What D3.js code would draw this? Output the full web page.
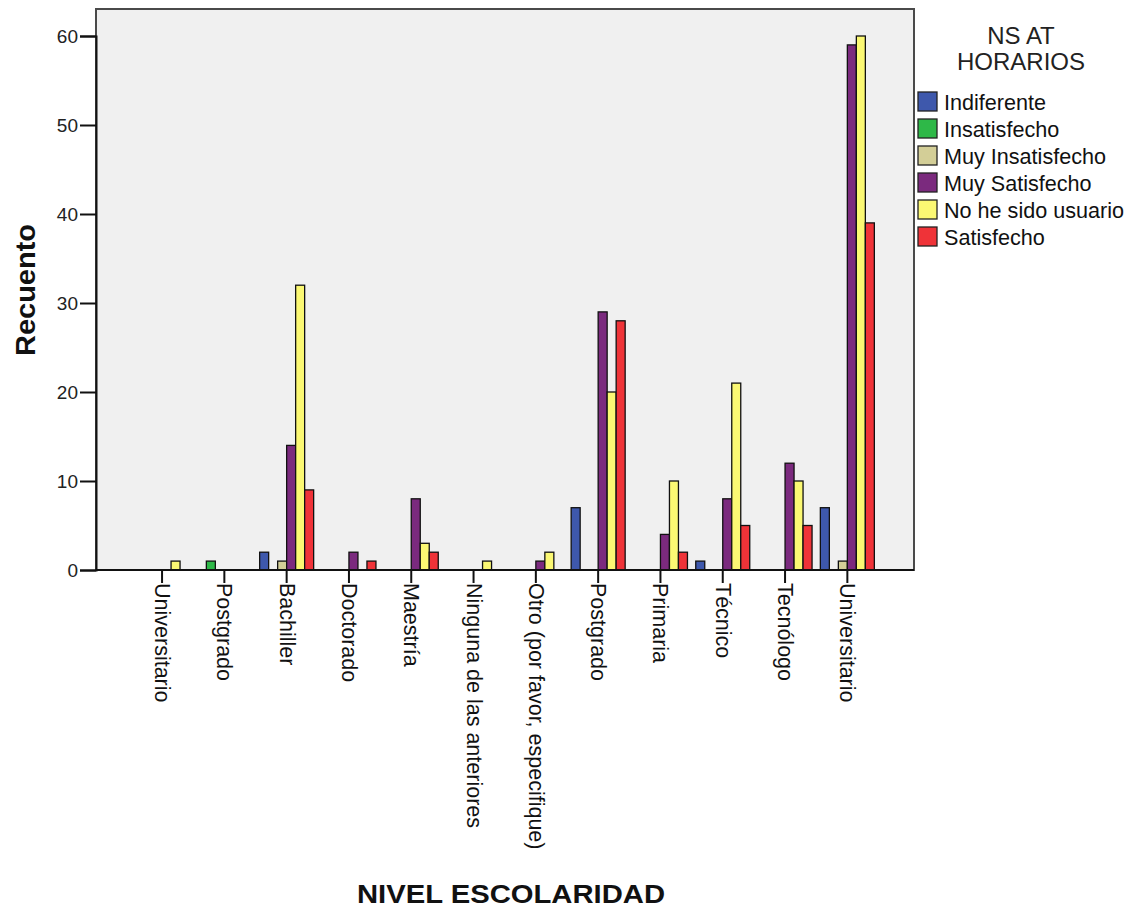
<!DOCTYPE html>
<html>
<head>
<meta charset="utf-8">
<script src="https://cdn.jsdelivr.net/npm/d3@7"></script>
<style>
  html, body { margin: 0; padding: 0; background: #ffffff; }
  svg { display: block; font-family: "Liberation Sans", Arial, sans-serif; }
</style>
</head>
<body>
<svg id="chart" width="1132" height="914"></svg>
<script>
// ---- data ----
const categories = ["Universitario", "Postgrado", "Bachiller", "Doctorado", "Maestría",
  "Ninguna de las anteriores", "Otro (por favor, especifique)", "Postgrado", "Primaria",
  "Técnico", "Tecnólogo", "Universitario"];
const seriesNames = ["Indiferente", "Insatisfecho", "Muy Insatisfecho", "Muy Satisfecho",
  "No he sido usuario", "Satisfecho"];
const indiferente      = [0, 0, 2, 0, 0, 0, 0, 7, 0, 1, 0, 7];
const insatisfecho     = [0, 1, 0, 0, 0, 0, 0, 0, 0, 0, 0, 0];
const muyInsatisfecho  = [0, 0, 1, 0, 0, 0, 0, 0, 0, 0, 0, 1];
const muySatisfecho    = [0, 0, 14, 2, 8, 0, 1, 29, 4, 8, 12, 59];
const noHeSidoUsuario  = [1, 0, 32, 0, 3, 1, 2, 20, 10, 21, 10, 60];
const satisfecho       = [0, 0, 9, 1, 2, 0, 0, 28, 2, 5, 5, 39];
const yTicks = [0, 10, 20, 30, 40, 50, 60];
const legendTitle = ["NS AT", "HORARIOS"];
const xTitle = "NIVEL ESCOLARIDAD";
const yTitle = "Recuento";

const seriesValues = [indiferente, insatisfecho, muyInsatisfecho, muySatisfecho, noHeSidoUsuario, satisfecho];
const colors = ["#3E58AC", "#2EB848", "#D3CE97", "#7B2A7E", "#FBF873", "#EF3338"];

// ---- layout ----
const svg = d3.select("#chart");
const plot = { left: 96, top: 9, right: 914, bottom: 570 };

const x = d3.scaleBand()
  .domain(d3.range(categories.length))
  .range([130.9, 878.5])
  .padding(0);
const xInner = d3.scaleBand()
  .domain(d3.range(seriesNames.length))
  .range([-27, 27])
  .padding(0);
const y = d3.scaleLinear().domain([0, 60]).range([570, 36]);

// plot background
svg.append("rect")
  .attr("x", plot.left).attr("y", plot.top)
  .attr("width", plot.right - plot.left).attr("height", plot.bottom - plot.top)
  .attr("fill", "#F0F0F0")
  .attr("stroke", "#4a4a4a").attr("stroke-width", 2);

// bars
const barData = [];
seriesValues.forEach((vals, s) => {
  vals.forEach((v, c) => { if (v > 0) barData.push({ s, c, v }); });
});
svg.append("g").selectAll("rect")
  .data(barData)
  .join("rect")
  .attr("x", d => x(d.c) + x.bandwidth() / 2 + xInner(d.s))
  .attr("width", xInner.bandwidth())
  .attr("y", d => y(d.v))
  .attr("height", d => y(0) - y(d.v))
  .attr("fill", d => colors[d.s])
  .attr("stroke", "#111")
  .attr("stroke-width", 1.3);

// y axis
const yAxis = d3.axisLeft(y).tickValues(yTicks).tickSize(16).tickPadding(2).tickFormat(d3.format("d"));
const gy = svg.append("g").attr("transform", `translate(${plot.left},0)`).call(yAxis);
gy.select(".domain").attr("stroke", "#111").attr("stroke-width", 2);
gy.selectAll(".tick line").attr("stroke", "#111").attr("stroke-width", 2);
gy.selectAll(".tick text")
  .attr("font-size", 19)
  .attr("fill", "#222")
  .attr("font-family", "'Liberation Sans', Arial, sans-serif");

// x axis
const xAxis = d3.axisBottom(x).tickSize(13).tickFormat(i => categories[i]);
const gx = svg.append("g").attr("transform", `translate(0,${plot.bottom})`).call(xAxis);
gx.select(".domain").attr("d", `M${plot.left},0H${plot.right}`).attr("stroke", "#111").attr("stroke-width", 2);
gx.selectAll(".tick line").attr("stroke", "#111").attr("stroke-width", 2);
gx.selectAll(".tick text")
  .attr("font-size", 21.5)
  .attr("fill", "#111")
  .attr("font-family", "'Liberation Sans', Arial, sans-serif")
  .attr("text-anchor", "start")
  .attr("dy", null)
  .attr("dominant-baseline", "central")
  .attr("transform", "translate(0,13) rotate(90)")
  .attr("x", 0).attr("y", 0);

// axis titles
svg.append("text")
  .attr("x", 511).attr("y", 903)
  .attr("text-anchor", "middle")
  .attr("font-size", 26).attr("font-weight", "bold")
  .attr("textLength", 308).attr("lengthAdjust", "spacingAndGlyphs")
  .attr("fill", "#111")
  .text(xTitle);

svg.append("text")
  .attr("transform", "translate(35,290) rotate(-90)")
  .attr("text-anchor", "middle")
  .attr("font-size", 27).attr("font-weight", "bold")
  .attr("textLength", 132).attr("lengthAdjust", "spacingAndGlyphs")
  .attr("fill", "#111")
  .text(yTitle);

// legend
const lg = svg.append("g");
lg.selectAll("text.title")
  .data(legendTitle)
  .join("text")
  .attr("class", "title")
  .attr("x", 1021)
  .attr("y", (d, i) => 44 + i * 26)
  .attr("text-anchor", "middle")
  .attr("font-size", 24)
  .attr("fill", "#222")
  .text(d => d);

const items = lg.selectAll("g.item")
  .data(seriesNames)
  .join("g")
  .attr("class", "item")
  .attr("transform", (d, i) => `translate(918,${92 + i * 27})`);
items.append("rect")
  .attr("x", 0).attr("y", 0)
  .attr("width", 19).attr("height", 19)
  .attr("fill", (d, i) => colors[i])
  .attr("stroke", "#222").attr("stroke-width", 1.3);
items.append("text")
  .attr("x", 26).attr("y", 18)
  .attr("font-size", 21.6)
  .attr("fill", "#111")
  .text(d => d);
</script>
</body>
</html>
